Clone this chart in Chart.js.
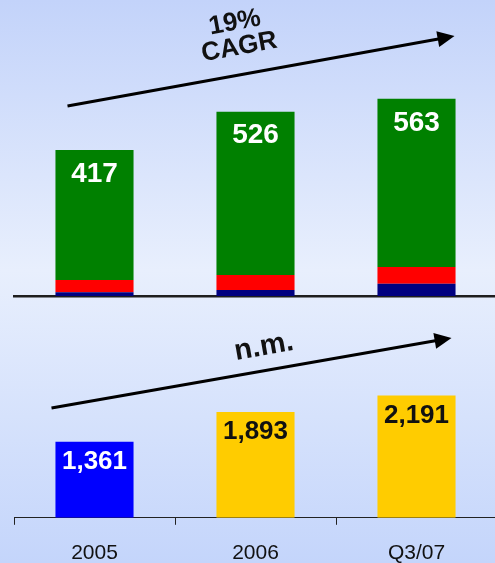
<!DOCTYPE html>
<html>
<head>
<meta charset="utf-8">
<script src="https://cdn.jsdelivr.net/npm/chart.js@4/dist/chart.umd.min.js"></script>
<style>
  html, body { margin: 0; padding: 0; }
  body {
    width: 495px; height: 563px; overflow: hidden; position: relative;
    background: linear-gradient(to bottom, #c3d3fa 0%, #e8effd 48%, #c4d5fb 100%);
    font-family: "Liberation Sans", Arial, sans-serif;
  }
  canvas { position: absolute; left: 0; }
  #top { top: 0; }
  #bottom { top: 300px; }
</style>
</head>
<body>
<canvas id="top" width="520" height="308"></canvas>
<canvas id="bottom" width="520" height="282"></canvas>
<script>
// Periods on the shared horizontal axis
const categories = ['2005', '2006', 'Q3/07'];

// Upper panel: stacked segments and their totals
const navySeg  = [11, 17, 35];
const redSeg   = [35, 43, 48];
const greenSeg = [371, 466, 480];
const totals   = [417, 526, 563];

// Lower panel: single bars
const lowerValues = [1361, 1893, 2191];
const lowerColors = ['#0000ff', '#ffcc00', '#ffcc00'];
const lowerLabelColors = ['#ffffff', '#111111', '#111111'];

const FONT = '"Liberation Sans", Arial, sans-serif';

function fmt(v) { return v.toLocaleString('en-US'); }

// Draws a straight arrow with a filled head
function drawArrow(ctx, x1, y1, x2, y2) {
  const ang = Math.atan2(y2 - y1, x2 - x1);
  const headLen = 17, headHalf = 8;
  ctx.save();
  ctx.strokeStyle = '#000';
  ctx.fillStyle = '#000';
  ctx.lineWidth = 3;
  ctx.beginPath();
  ctx.moveTo(x1, y1);
  ctx.lineTo(x2 - Math.cos(ang) * headLen * 0.8, y2 - Math.sin(ang) * headLen * 0.8);
  ctx.stroke();
  ctx.translate(x2, y2);
  ctx.rotate(ang);
  ctx.beginPath();
  ctx.moveTo(0, 0);
  ctx.lineTo(-headLen, -headHalf);
  ctx.lineTo(-headLen, headHalf);
  ctx.closePath();
  ctx.fill();
  ctx.restore();
}

// Rotated, multi-line caption
function drawCaption(ctx, lines, cx, cy, deg, size, lineGap) {
  ctx.save();
  ctx.translate(cx, cy);
  ctx.rotate(deg * Math.PI / 180);
  ctx.fillStyle = '#111';
  ctx.font = 'bold ' + size + 'px ' + FONT;
  ctx.textAlign = 'center';
  ctx.textBaseline = 'middle';
  const start = -(lines.length - 1) * lineGap / 2;
  lines.forEach((t, i) => ctx.fillText(t, 0, start + i * lineGap));
  ctx.restore();
}

// Growth arrow plus caption, placed relative to the category positions
function growthPlugin(id, captionLines, cfg) {
  return {
    id: id,
    afterDraw(chart) {
      const ctx = chart.ctx;
      const x = chart.scales.x;
      const x1 = x.getPixelForValue(0) + cfg.startDx;
      const x2 = x.getPixelForValue(categories.length - 1) + cfg.endDx;
      drawArrow(ctx, x1, cfg.startY, x2, cfg.endY);
      drawCaption(ctx, captionLines, cfg.capX, cfg.capY, cfg.capDeg, cfg.capSize, cfg.capGap);
    }
  };
}

// Value labels inside the top of each bar
function valueLabelPlugin(id, datasetIndex, values, colors, size, dy) {
  return {
    id: id,
    afterDatasetsDraw(chart) {
      const ctx = chart.ctx;
      const meta = chart.getDatasetMeta(datasetIndex);
      ctx.save();
      ctx.font = 'bold ' + size + 'px ' + FONT;
      ctx.textAlign = 'center';
      ctx.textBaseline = 'middle';
      meta.data.forEach((bar, i) => {
        ctx.fillStyle = colors[i];
        ctx.fillText(fmt(values[i]), bar.x, bar.y + dy);
      });
      ctx.restore();
    }
  };
}

const barWidthShare = 0.485;

new Chart(document.getElementById('top'), {
  type: 'bar',
  data: {
    labels: categories,
    datasets: [
      { data: navySeg,  backgroundColor: '#000080' },
      { data: redSeg,   backgroundColor: '#ff0000' },
      { data: greenSeg, backgroundColor: '#008000' }
    ]
  },
  options: {
    responsive: false,
    animation: false,
    devicePixelRatio: 1,
    layout: { padding: { left: 14, right: 23, top: 0, bottom: 4 } },
    datasets: { bar: { categoryPercentage: 1, barPercentage: barWidthShare, borderWidth: 0 } },
    plugins: { legend: { display: false }, tooltip: { enabled: false } },
    scales: {
      x: {
        stacked: true,
        offset: true,
        grid: { display: false },
        ticks: { display: false },
        border: { display: true, color: '#1e1e1e', width: 2.5 }
      },
      y: { stacked: true, display: false, min: 0, max: 845 }
    }
  },
  plugins: [
    valueLabelPlugin('totals', 2, totals, ['#fff', '#fff', '#fff'], 28, 24),
    growthPlugin('cagr', ['19%', 'CAGR'], {
      startDx: -27, endDx: 38, startY: 106, endY: 36,
      capX: 237, capY: 35, capDeg: -10.5, capSize: 26, capGap: 25
    })
  ]
});

new Chart(document.getElementById('bottom'), {
  type: 'bar',
  data: {
    labels: categories,
    datasets: [
      { data: lowerValues, backgroundColor: lowerColors }
    ]
  },
  options: {
    responsive: false,
    animation: false,
    devicePixelRatio: 1,
    layout: { padding: { left: 14, right: 23, top: 10, bottom: 0 } },
    datasets: { bar: { categoryPercentage: 1, barPercentage: barWidthShare, borderWidth: 0 } },
    plugins: { legend: { display: false }, tooltip: { enabled: false } },
    scales: {
      x: {
        offset: true,
        grid: { display: true, drawOnChartArea: false, offset: true, tickLength: 7, color: '#222', lineWidth: 1 },
        border: { display: true, color: '#222', width: 1 },
        ticks: { color: '#111', padding: 16, font: { family: FONT, size: 21 } }
      },
      y: { display: false, min: 0, max: 3720 }
    }
  },
  plugins: [
    valueLabelPlugin('lowerValues', 0, lowerValues, lowerLabelColors, 26, 20),
    growthPlugin('nm', ['n.m.'], {
      startDx: -43, endDx: 35, startY: 108, endY: 38,
      capX: 264, capY: 47, capDeg: -10, capSize: 29, capGap: 0
    })
  ]
});
</script>
</body>
</html>
